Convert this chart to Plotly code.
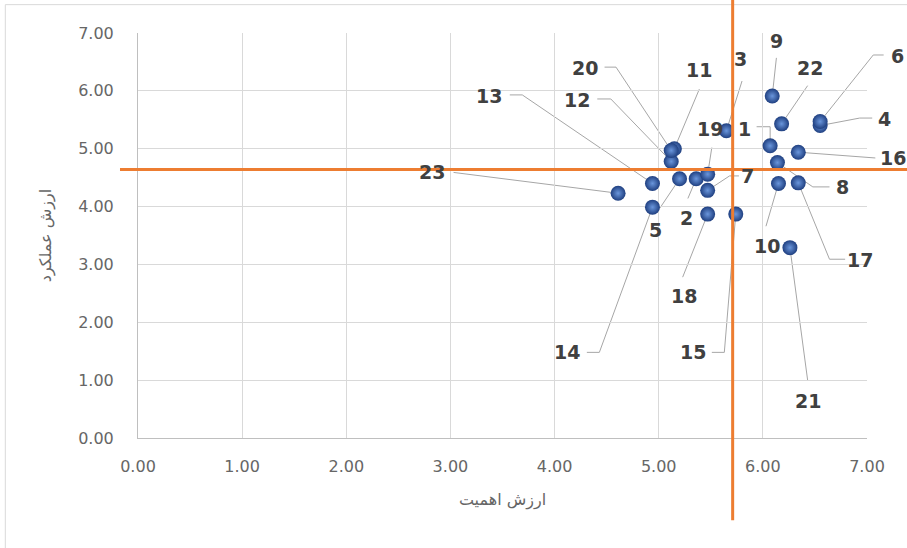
import plotly.graph_objects as go

# Item ids with their importance (x) and performance (y) scores
ids = ["1", "2", "3", "4", "5", "6", "7", "8", "9", "10", "11", "12",
       "13", "14", "15", "16", "17", "18", "19", "20", "21", "22", "23"]
importance = [6.07, 5.36, 5.65, 6.55, 5.20, 6.55, 5.47, 6.14, 6.09, 6.15, 5.15, 5.12,
              4.94, 4.94, 5.74, 6.34, 6.34, 5.47, 5.47, 5.12, 6.26, 6.18, 4.61]
performance = [5.05, 4.48, 5.31, 5.40, 4.48, 5.47, 4.28, 4.76, 5.91, 4.40, 5.00, 4.78,
               4.40, 3.99, 3.87, 4.94, 4.41, 3.87, 4.56, 4.97, 3.29, 5.43, 4.23]

# Quadrant split values
split_x = 5.71
split_y = 4.64

tick_vals = [0, 1, 2, 3, 4, 5, 6, 7]
tick_text = ["0.00", "1.00", "2.00", "3.00", "4.00", "5.00", "6.00", "7.00"]
AX_MIN, AX_MAX = 0, 7

# Label placement (data units) and leader-line elbow points for each id
label_pos = {
    "1": (5.82, 5.34), "2": (5.27, 3.81), "3": (5.79, 6.55), "4": (7.17, 5.52),
    "5": (4.97, 3.60), "6": (7.29, 6.60), "7": (5.85, 4.52), "8": (6.76, 4.33),
    "9": (6.13, 6.86), "10": (6.04, 3.31), "11": (5.39, 6.36), "12": (4.22, 5.84),
    "13": (3.37, 5.91), "14": (4.12, 1.48), "15": (5.33, 1.48), "16": (7.25, 4.84),
    "17": (6.93, 3.07), "18": (5.24, 2.45), "19": (5.49, 5.34), "20": (4.29, 6.40),
    "21": (6.43, 0.64), "22": (6.45, 6.40), "23": (2.82, 4.60),
}
leader_path = {
    "1": [(5.94, 5.38), (6.07, 5.38)], "2": [(5.28, 4.14)], "3": [(5.80, 6.17)],
    "4": [(7.05, 5.53), (6.93, 5.53)], "5": [(5.01, 3.97)],
    "6": [(7.16, 6.62), (7.06, 6.62)], "7": [(5.77, 4.53), (5.68, 4.53)],
    "8": [(6.64, 4.34), (6.48, 4.34)], "9": [(6.13, 6.57)], "10": [(6.03, 3.66)],
    "11": [(5.39, 6.03)], "12": [(4.41, 5.86), (4.54, 5.86)],
    "13": [(3.57, 5.93), (3.69, 5.93)], "14": [(4.31, 1.48), (4.43, 1.48)],
    "15": [(5.51, 1.48), (5.63, 1.48)], "16": [(7.08, 4.84)],
    "17": [(6.79, 3.09), (6.64, 3.09)], "18": [(5.23, 2.78)], "19": [(5.51, 5.02)],
    "20": [(4.48, 6.41), (4.59, 6.41)], "21": [(6.43, 1.00)], "22": [(6.43, 6.09)],
    "23": [(3.03, 4.59)],
}


def to_paper(v):
    # data value -> paper fraction for the 0..7 axes
    return (v - AX_MIN) / (AX_MAX - AX_MIN)


fig = go.Figure()

shapes = [
    # outer chart border
    dict(type="rect", xref="paper", yref="paper", x0=-0.182, x1=1.07, y0=-0.275, y1=1.07,
         line=dict(color="#d9d9d9", width=1), layer="below"),
]

# Leader lines from each label to its point (paper refs so they may leave the plot area)
for name, x, y in zip(ids, importance, performance):
    pts = leader_path[name] + [(x, y)]
    d = "M " + " L ".join(f"{to_paper(px):.5f},{to_paper(py):.5f}" for px, py in pts)
    shapes.append(dict(type="path", path=d, xref="paper", yref="paper",
                       line=dict(color="#a6a6a6", width=1), layer="between"))

# Quadrant lines
shapes.append(dict(type="line", xref="x", yref="paper", x0=split_x, x1=split_x,
                   y0=-0.203, y1=1.09, line=dict(color="#ED7D31", width=3)))
shapes.append(dict(type="line", xref="paper", yref="y", x0=-0.0247, x1=1.06,
                   y0=split_y, y1=split_y, line=dict(color="#ED7D31", width=3)))

# Points
fig.add_trace(go.Scatter(
    x=importance, y=performance, mode="markers", text=ids, showlegend=False,
    cliponaxis=False,
    marker=dict(size=15, color="#1f3f80",
                gradient=dict(type="radial", color="#6a96dc"),
                line=dict(width=0)),
))

annotations = []
for name in ids:
    tx, ty = label_pos[name]
    annotations.append(dict(x=to_paper(tx), y=to_paper(ty), xref="paper", yref="paper",
                            text=name, showarrow=False,
                            font=dict(family="DejaVu Sans", size=19, color="#404040",
                                      weight="bold"),
                            xanchor="center", yanchor="middle"))

fig.update_layout(
    width=907, height=548,
    margin=dict(l=138, r=40, t=33, b=110),
    paper_bgcolor="white", plot_bgcolor="white",
    annotations=annotations, shapes=shapes,
    font=dict(family="DejaVu Sans", color="#595959"),
    xaxis=dict(range=[AX_MIN, AX_MAX], tickvals=tick_vals, ticktext=tick_text,
               showgrid=True, gridcolor="#d9d9d9", gridwidth=1,
               showline=True, linecolor="#bfbfbf", linewidth=1,
               zeroline=False, ticks="", ticklabelstandoff=14,
               tickfont=dict(size=16, color="#666666"),
               title=dict(text="ارزش اهمیت", font=dict(size=16, color="#666666"), standoff=18)),
    yaxis=dict(range=[AX_MIN, AX_MAX], tickvals=tick_vals, ticktext=tick_text,
               showgrid=True, gridcolor="#d9d9d9", gridwidth=1,
               showline=True, linecolor="#bfbfbf", linewidth=1,
               zeroline=False, ticks="", ticklabelstandoff=20,
               tickfont=dict(size=16, color="#666666"),
               title=dict(text="ارزش عملکرد", font=dict(size=16, color="#666666"), standoff=22)),
)

fig.write_html("out.html")
